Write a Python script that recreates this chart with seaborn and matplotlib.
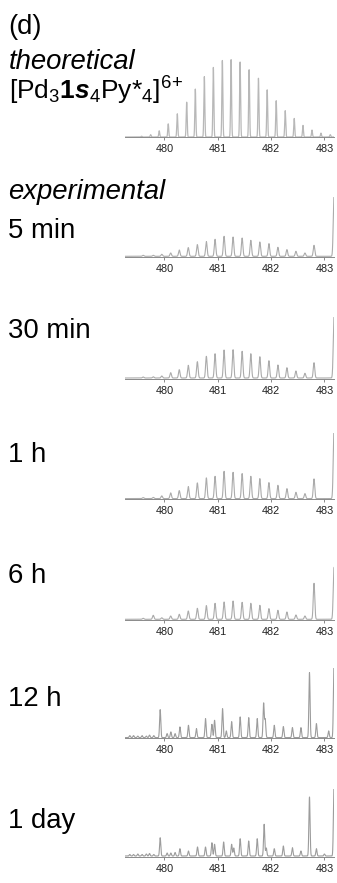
import numpy as np
import pandas as pd
import matplotlib
matplotlib.use("Agg")
import matplotlib.pyplot as plt
import seaborn as sns

# ---------------- data ----------------
theo_mz = [479.571, 479.741, 479.902, 480.071, 480.241, 480.417, 480.579, 480.748,
           480.917, 481.086, 481.250, 481.419, 481.588, 481.763, 481.927, 482.096,
           482.265, 482.434, 482.598, 482.767, 482.936, 483.110]
theo_int = [0.01, 0.03, 0.08, 0.17, 0.30, 0.45, 0.62, 0.78, 0.90, 0.99, 1.00, 0.97,
            0.87, 0.76, 0.61, 0.47, 0.34, 0.24, 0.15, 0.09, 0.05, 0.03]

exp_mz = [479.60, 479.79, 479.95, 480.117, 480.278, 480.447, 480.617, 480.786, 480.949,
          481.118, 481.287, 481.457, 481.620, 481.789, 481.959, 482.128, 482.297,
          482.466, 482.635, 482.805, 483.18]
int_5min = [1.0, 1.0, 2.0, 3.3, 6.3, 8.7, 11.7, 14.7, 17.0, 20.0, 19.3, 18.3, 16.0,
            14.3, 12.7, 9.0, 6.7, 5.0, 3.3, 11.0, 60.0]
int_30min = [1.0, 1.2, 2.0, 5.3, 8.3, 12.7, 16.3, 21.7, 24.3, 28.0, 28.3, 26.7, 24.3,
             21.3, 17.3, 13.0, 10.3, 7.0, 4.7, 15.3, 61.0]
int_1h = [1.0, 1.2, 2.7, 5.7, 8.0, 12.0, 15.7, 20.7, 22.3, 27.3, 26.3, 25.0, 22.3,
          20.0, 16.0, 13.3, 10.0, 6.3, 5.0, 19.7, 70.0]
int_6h = [1.0, 4.0, 1.5, 3.3, 5.0, 8.3, 11.0, 13.7, 16.0, 17.3, 18.3, 17.0, 16.0,
          14.0, 10.7, 9.0, 7.3, 4.3, 3.3, 36.0, 52.0]

mz_12h = [479.35, 479.42, 479.50, 479.58, 479.66, 479.72, 479.80, 479.92, 480.05, 480.12,
          480.20, 480.29, 480.45, 480.60, 480.77, 480.89, 480.94, 481.09, 481.16, 481.26,
          481.42, 481.58, 481.74, 481.86, 481.89, 482.06, 482.23, 482.40, 482.56, 482.72,
          482.85, 483.08, 483.18]
int_12h = [2.0, 2.0, 1.5, 2.0, 1.5, 2.5, 2.0, 28.0, 4.0, 5.7,
           4.0, 10.7, 12.3, 9.0, 19.0, 13.3, 17.3, 29.0, 6.7, 16.0,
           20.7, 20.0, 19.0, 34.3, 18.0, 12.3, 11.0, 10.0, 10.0, 65.0,
           14.0, 6.7, 75.0]

mz_1day = [479.35, 479.42, 479.50, 479.58, 479.66, 479.72, 479.80, 479.92, 480.05, 480.12,
           480.20, 480.29, 480.45, 480.62, 480.77, 480.89, 480.94, 481.11, 481.26, 481.30,
           481.42, 481.58, 481.74, 481.87, 481.91, 482.06, 482.23, 482.40, 482.56, 482.72,
           482.85, 483.00, 483.18]
int_1day = [1.5, 1.5, 2.0, 1.5, 2.0, 2.5, 1.5, 18.3, 3.0, 3.0,
            3.5, 7.3, 5.0, 9.0, 9.0, 13.3, 11.7, 14.0, 11.7, 8.0,
            17.3, 15.0, 17.3, 31.7, 8.0, 7.3, 10.0, 8.3, 5.0, 59.0,
            7.3, 2.0, 70.0]

tick_values = [480, 481, 482, 483]
tick_labels = ["480", "481", "482", "483"]

panel_names = ["5 min", "30 min", "1 h", "6 h", "12 h", "1 day"]
panel_mz = [exp_mz, exp_mz, exp_mz, exp_mz, mz_12h, mz_1day]
panel_int = [int_5min, int_30min, int_1h, int_6h, int_12h, int_1day]

# ---------------- layout (pixels) ----------------
W, Hfig = 337, 883
ax_left, ax_right = 125, 334
xlim = (479.26, 483.18)
theo_base, theo_h = 137, 78
exp_base = [257, 378.7, 499.3, 620, 738.3, 856.7]
exp_h = [60, 62, 66, 56, 70, 68]
label_y = [237.7, 338.3, 461.7, 583.3, 705.7, 828.3]

sns.set_theme(style="white")
plt.rcParams["font.family"] = ["Liberation Sans", "DejaVu Sans"]
plt.rcParams["mathtext.fontset"] = "custom"
plt.rcParams["mathtext.rm"] = "Liberation Sans"
plt.rcParams["mathtext.it"] = "Liberation Sans:italic"
plt.rcParams["mathtext.bf"] = "Liberation Sans:bold"
try:
    plt.rcParams["mathtext.bfit"] = "Liberation Sans:italic:bold"
except KeyError:
    pass

fig = plt.figure(figsize=(W / 100, Hfig / 100), dpi=100)
grid = np.linspace(479.1, 483.3, 6000)


def profile(mz, inten, sigma, offset=0.0):
    y = np.full_like(grid, offset)
    for m, h in zip(mz, inten):
        y += h * np.exp(-0.5 * ((grid - m) / sigma) ** 2)
    return y


def make_ax(base, h):
    return fig.add_axes([ax_left / W, (Hfig - base) / Hfig, (ax_right - ax_left) / W, h / Hfig])


def style_ax(ax):
    ax.set_xlim(*xlim)
    for s in ["top", "left", "right"]:
        ax.spines[s].set_visible(False)
    ax.spines["bottom"].set_color("#8a8a8a")
    ax.spines["bottom"].set_linewidth(0.7)
    ax.set_yticks([])
    ax.set_xticks(tick_values)
    ax.set_xticklabels(tick_labels)
    ax.tick_params(axis="x", direction="out", length=2.5, width=0.7, color="#8a8a8a",
                   labelsize=7.8, labelcolor="#222222", pad=2.5, bottom=True)
    ax.set_xlabel("")
    ax.set_ylabel("")
    ax.patch.set_alpha(0)


# theoretical
ax = make_ax(theo_base, theo_h)
df = pd.DataFrame({"mz": grid, "intensity": profile(theo_mz, theo_int, 0.009)})
sns.lineplot(data=df, x="mz", y="intensity", ax=ax, color="#b8b8b8", linewidth=0.9)
ax.set_ylim(0, 1.0 * theo_h / 77.3)
style_ax(ax)

# experimental
for i in range(6):
    ax = make_ax(exp_base[i], exp_h[i])
    sig = 0.014 if i < 4 else 0.011
    df = pd.DataFrame({"mz": grid, "intensity": profile(panel_mz[i], panel_int[i], sig, offset=0.7)})
    col = "#ababab" if i < 4 else "#9c9c9c"
    sns.lineplot(data=df, x="mz", y="intensity", ax=ax, color=col, linewidth=0.8)
    ax.set_ylim(0, exp_h[i])
    style_ax(ax)

# texts
fs = 19.8


def ftext(x, y, s, size=fs, **kw):
    fig.text(x / W, 1 - y / Hfig, s, ha="left", va="baseline", fontsize=size, color="black", **kw)


ftext(8, 33.5, "(d)")
ftext(9, 69, "theoretical", style="italic")
ftext(9, 99.5, r"[Pd$_3$$\mathbf{1}$$\mathbfit{s}$$_4$Py*$_4$]$^{6}$$^{+}$", size=19.0)
ftext(8, 199, "experimental", style="italic")
for name, yy in zip(panel_names, label_y):
    ftext(8, yy, name)

fig.savefig("out.png", dpi=100)
